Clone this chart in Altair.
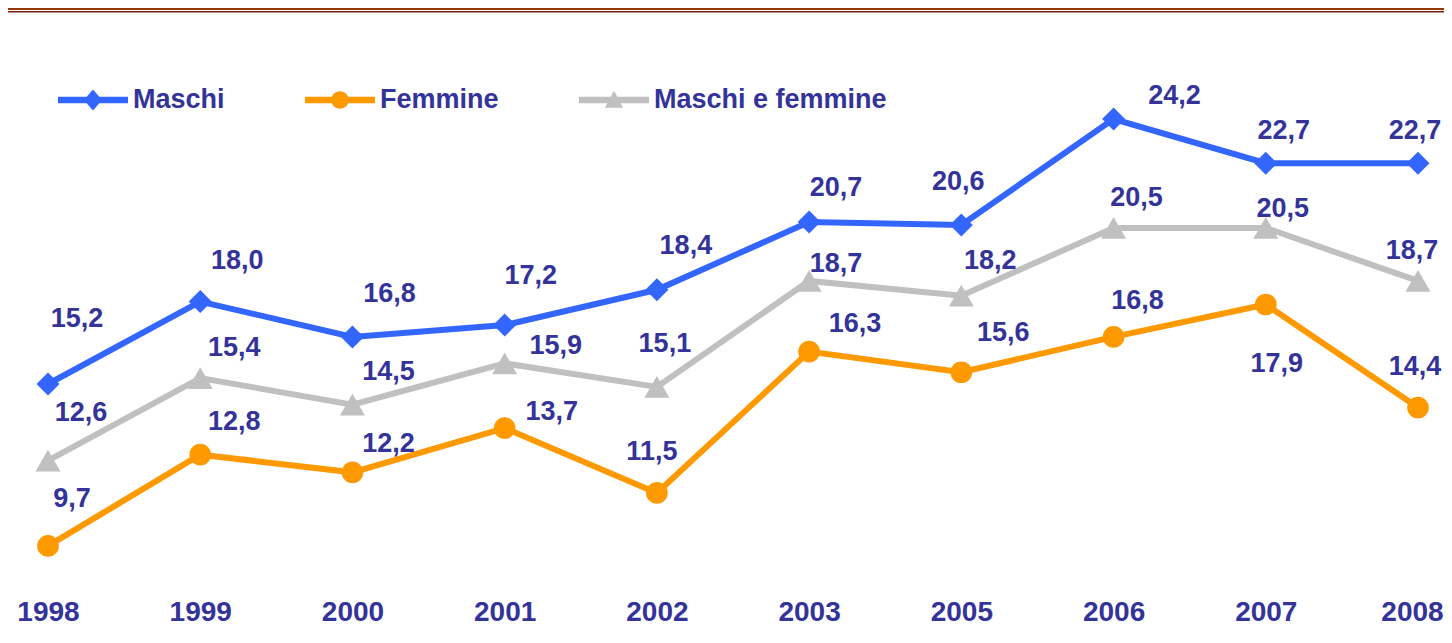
import altair as alt
import pandas as pd

# ---- data ----
years = ["1998", "1999", "2000", "2001", "2002", "2003", "2005", "2006", "2007", "2008"]
series = ["Maschi", "Femmine", "Maschi e femmine"]
maschi = [15.2, 18.0, 16.8, 17.2, 18.4, 20.7, 20.6, 24.2, 22.7, 22.7]
femmine = [9.7, 12.8, 12.2, 13.7, 11.5, 16.3, 15.6, 16.8, 17.9, 14.4]
maschi_e_femmine = [12.6, 15.4, 14.5, 15.9, 15.1, 18.7, 18.2, 20.5, 20.5, 18.7]

# ---- label placement (pixel offsets of each value label from its point) ----
lab_dx_maschi = [29, 37, 37, 26, 29, 27, -3, 61, 18, -3]
lab_dy_maschi = [-67, -43, -45, -51, -46, -36, -45, -25, -34, -34]
lab_dx_femmine = [24, 34, 36, 47, -5, 46, 42, 24, 11, -3]
lab_dy_femmine = [-49, -35, -30, -18, -43, -30, -41, -38, 57, -43]
lab_dx_mf = [33, 34, 36, 51, 8, 27, 29, 23, 17, -6]
lab_dy_mf = [-50, -32, -35, -19, -45, -19, -37, -32, -21, -32]

# ---- styles ----
colors = ["#3366FF", "#FF9900", "#C0C0C0"]
shapes = ["diamond", "circle", "triangle-up"]
sizes = [529, 470, 625]
TEXT = "#333399"
FONT = "Liberation Sans"

LINE = "M-1,-0.09H1V0.09H-1Z "
legend_paths = [
    LINE + "M0,-0.3L0.26,0L0,0.3L-0.26,0Z",
    LINE + "M-0.25,0A0.25,0.25,0,1,1,0.25,0A0.25,0.25,0,1,1,-0.25,0Z",
    LINE + "M-0.26,0.22L0,-0.27L0.26,0.22Z",
]

rows = []
for s, vals, dxs, dys in [
    (series[0], maschi, lab_dx_maschi, lab_dy_maschi),
    (series[1], femmine, lab_dx_femmine, lab_dy_femmine),
    (series[2], maschi_e_femmine, lab_dx_mf, lab_dy_mf),
]:
    for yr, v, dx, dy in zip(years, vals, dxs, dys):
        rows.append({"year": yr, "series": s, "value": v,
                     "label": f"{v:.1f}".replace(".", ","), "dx": dx, "dy": dy})
df = pd.DataFrame(rows)

x_enc = alt.X(
    "year:O", sort=years,
    scale=alt.Scale(type="point", padding=0, domain=years),
    axis=alt.Axis(title=None, domain=False, ticks=False, grid=False, labelAngle=0,
                  labelFont=FONT, labelFontSize=28, labelFontWeight="bold",
                  labelColor=TEXT, labelPadding=2,
                  labelOffset={"condition": {"test": "datum.value == '2008'", "value": -6},
                               "value": 0}),
)
y_enc = alt.Y("value:Q", scale=alt.Scale(domain=[8, 26], nice=False, zero=False), axis=None)
color_scale = alt.Scale(domain=series, range=colors)

base = alt.Chart(df)

legend_props = dict(
    title=None, orient="none", legendX=10, legendY=-1, direction="horizontal",
    symbolSize=4900, symbolStrokeWidth=0, symbolOpacity=1,
    labelFont=FONT, labelFontSize=27, labelFontWeight="bold", labelColor=TEXT,
    labelOffset=5, labelLimit=500, columnPadding=80, padding=0,
)
legend_layer = base.transform_filter("false").mark_point(filled=True, opacity=1).encode(
    color=alt.Color("series:N", scale=color_scale, legend=alt.Legend(**legend_props)),
    shape=alt.Shape("series:N", scale=alt.Scale(domain=series, range=legend_paths),
                    legend=alt.Legend(**legend_props)),
)

lines = base.mark_line(strokeWidth=6).encode(
    x=x_enc, y=y_enc, color=alt.Color("series:N", scale=color_scale, legend=None)
)

point_layers = [
    base.transform_filter(alt.datum.series == s)
    .mark_point(filled=True, opacity=1, shape=shp, size=sz, strokeWidth=0)
    .encode(x=x_enc, y=y_enc, color=alt.Color("series:N", scale=color_scale, legend=None))
    for s, shp, sz in zip(series, shapes, sizes)
]

labels = base.mark_text(
    font=FONT, fontSize=27, fontWeight="bold", color=TEXT,
    align="center", baseline="middle",
    dx=alt.expr("datum.dx"), dy=alt.expr("datum.dy + 2"),
).encode(x=x_enc, y=y_enc, text="label:N")

band_df = pd.DataFrame({"k": [0]})
band = alt.Chart(band_df).mark_rect(color="#993300").encode(
    x=alt.value(-40), x2=alt.value(1396), y=alt.value(-58), y2=alt.value(-56)
)
band_line = alt.Chart(band_df).mark_rule(color="#7B1C0E", strokeWidth=1.5).encode(
    x=alt.value(-40), x2=alt.value(1396), y=alt.value(-54.3)
)

chart = alt.layer(legend_layer, band, band_line, lines, *point_layers, labels).properties(
    width=1370, height=530,
    autosize=alt.AutoSizeParams(type="none"),
    padding={"left": 40, "top": 58, "right": 26, "bottom": 39},
    background="white",
).configure_view(stroke=None)

chart.save("out.html", embed_options={"renderer": "svg", "actions": False})
